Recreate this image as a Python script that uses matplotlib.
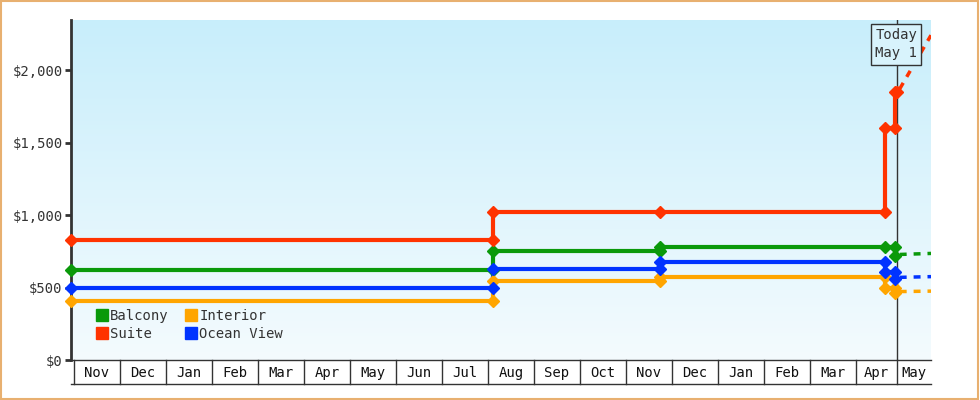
import matplotlib
matplotlib.use("Agg")
import matplotlib.pyplot as plt
import numpy as np
from matplotlib.patches import Rectangle

plt.rcParams['font.family'] = ['DejaVu Sans Mono']

months = ["Nov","Dec","Jan","Feb","Mar","Apr","May","Jun","Jul","Aug","Sep","Oct","Nov","Dec","Jan","Feb","Mar","Apr","May"]
month_starts = [0,1,2,3,4,5,6,7,8,9,10,11,12,13,14,15,16,17,17.9]
today_x = 17.9

# x in months since Nov 1; duplicated x = step
suite_x = [-0.065, 9.1, 9.1, 12.74, 17.63, 17.63, 17.85, 17.85, 17.9]
suite_y = [828, 828, 1020, 1020, 1020, 1600, 1600, 1845, 1845]
balcony_x = [-0.065, 9.1, 9.1, 12.74, 12.74, 17.63, 17.85, 17.85]
balcony_y = [620, 620, 752, 752, 780, 780, 780, 717]
ocean_x = [-0.065, 9.1, 9.1, 12.74, 12.74, 17.63, 17.63, 17.85, 17.85]
ocean_y = [497, 497, 628, 628, 676, 676, 607, 607, 559]
interior_x = [-0.065, 9.1, 9.1, 12.74, 12.74, 17.63, 17.63, 17.85, 17.85]
interior_y = [407, 407, 545, 545, 572, 572, 497, 497, 462]
mark_idx = {"s":[0,1,2,3,4,5,6,7], "b":[0,1,2,3,4,5,6,7], "o":[0,1,2,3,4,5,6,7,8], "i":[0,1,2,3,4,5,6,7,8]}
proj_x = [17.95, 18.63]
suite_proj = [1870, 2240]
balcony_proj = [728, 735]
ocean_proj = [570, 575]
interior_proj = [472, 475]

fig = plt.figure(figsize=(9.8, 4.0), dpi=100)
fig.patch.set_facecolor("white")
fig.add_artist(Rectangle((0.001, 0.002), 0.997, 0.995, transform=fig.transFigure,
                         fill=False, edgecolor="#e8b070", lw=1.5))
ax = fig.add_axes([71/980, 1-360/400, 860/980, 340/400])
xmin, xmax = -0.065, 18.63
ymin, ymax = 0, 2345
ax.set_xlim(xmin, xmax); ax.set_ylim(ymin, ymax)
grad = np.linspace(0, 1, 256).reshape(-1, 1)
from matplotlib.colors import LinearSegmentedColormap
cmap = LinearSegmentedColormap.from_list("g", ["#f4fbfe", "#c8eefb"])
ax.imshow(grad, extent=[xmin, xmax, ymin, ymax], origin="lower", aspect="auto", cmap=cmap, zorder=0)

series = [("Balcony", balcony_x, balcony_y, balcony_proj, "#0a990a"),
          ("Suite", suite_x, suite_y, suite_proj, "#ff3300"),
          ("Interior", interior_x, interior_y, interior_proj, "#ffa500"),
          ("Ocean View", ocean_x, ocean_y, ocean_proj, "#0033ff")]
for name, xs, ys, pj, c in series:
    ax.plot(xs, ys, color=c, lw=3, zorder=3, clip_on=False)
    ax.plot(xs, ys, ls="none", marker="D", ms=6, color=c, zorder=4, clip_on=False)
    ax.plot(proj_x, pj, color=c, lw=2.5, ls=(0, (2, 2)), zorder=3)
    ax.plot([], [], ls="none", marker="s", ms=9, color=c, label=name)

ax.axvline(today_x, color="#333333", lw=1, zorder=2)
ax.text(today_x + 0.43, 2290, "Today\nMay 1", ha="right", va="top", fontsize=10, color="#333",
        linespacing=1.4, bbox=dict(boxstyle="square,pad=0.3", fc="#d8f3fc", ec="#333"), zorder=6)

ax.set_yticks([0, 500, 1000, 1500, 2000])
ax.set_yticklabels(["$0", "$500", "$1,000", "$1,500", "$2,000"], color="#333", fontsize=10)
ax.tick_params(axis="y", length=4, width=2, color="#333", pad=2)
ax.set_xticks([])
for s in ["top", "right"]:
    ax.spines[s].set_visible(False)
ax.spines["left"].set_linewidth(2); ax.spines["left"].set_color("#333")
ax.spines["bottom"].set_linewidth(1); ax.spines["bottom"].set_color("#333")

# month strip
trans = ax.get_xaxis_transform()
bounds = month_starts + [xmax]
for i, m in enumerate(months):
    x0, x1 = bounds[i], bounds[i + 1]
    ax.plot([x0, x0], [0, -0.072], transform=trans, color="#333", lw=1, clip_on=False)
    ax.text((x0 + x1) / 2, -0.038, m, transform=trans, ha="center", va="center", fontsize=10, color="#111")
ax.plot([xmin, xmax], [-0.072, -0.072], transform=trans, color="#333", lw=1, clip_on=False)

ax.legend(loc="lower left", bbox_to_anchor=(0.015, 0.02), ncol=2, frameon=False, fontsize=10,
          handlelength=0.8, handletextpad=0.2, columnspacing=1.2, labelspacing=0.3, labelcolor="#333")

fig.savefig("out.png", dpi=100)
